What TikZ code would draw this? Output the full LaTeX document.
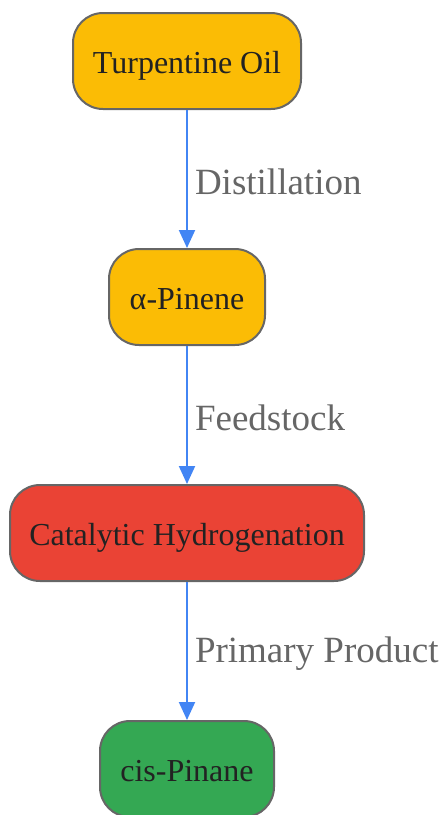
\documentclass[tikz,border=0pt]{standalone}
\usepackage{fontspec}
\setmainfont{Liberation Serif}
\usetikzlibrary{arrows.meta}
\definecolor{boxline}{HTML}{666666}
\definecolor{arrowblue}{HTML}{4285F4}
\definecolor{gyellow}{HTML}{FBBC05}
\definecolor{gred}{HTML}{EA4335}
\definecolor{ggreen}{HTML}{34A853}
\definecolor{labelgray}{HTML}{666666}
\definecolor{textdark}{HTML}{222222}
\tikzset{
 stepbox/.style={draw=boxline, line width=2pt, rounded corners=30pt, minimum height=96pt,
  text=textdark, font=\fontsize{32}{36}\selectfont, inner sep=0pt, text height=26pt, text depth=2pt},
 flow/.style={draw=arrowblue, line width=2pt, -{Triangle[length=18pt,width=16pt]}},
 flowlabel/.style={text=labelgray, font=\fontsize{37}{42}\selectfont, right, inner sep=0pt}
}
\begin{document}
\begin{tikzpicture}[x=1pt,y=-1pt]
\useasboundingbox (0,0) rectangle (444,815);
\node[stepbox, fill=gyellow, minimum width=228pt] (oil) at (187,61) {Turpentine Oil};
\node[stepbox, fill=gyellow, minimum width=156pt] (pinene) at (187,297) {α-Pinene};
\node[stepbox, fill=gred, minimum width=354pt] (hydro) at (187,533) {Catalytic Hydrogenation};
\node[stepbox, fill=ggreen, minimum width=174pt] (pinane) at (187,769) {cis-Pinane};
\draw[flow] (oil) -- (pinene) node[midway, flowlabel, xshift=7pt, yshift=-3pt] {Distillation};
\draw[flow] (pinene) -- (hydro) node[midway, flowlabel, xshift=7pt, yshift=-3pt] {Feedstock};
\draw[flow] (hydro) -- (pinane) node[midway, flowlabel, xshift=7pt, yshift=-3pt] {Primary Product};
\end{tikzpicture}
\end{document}
